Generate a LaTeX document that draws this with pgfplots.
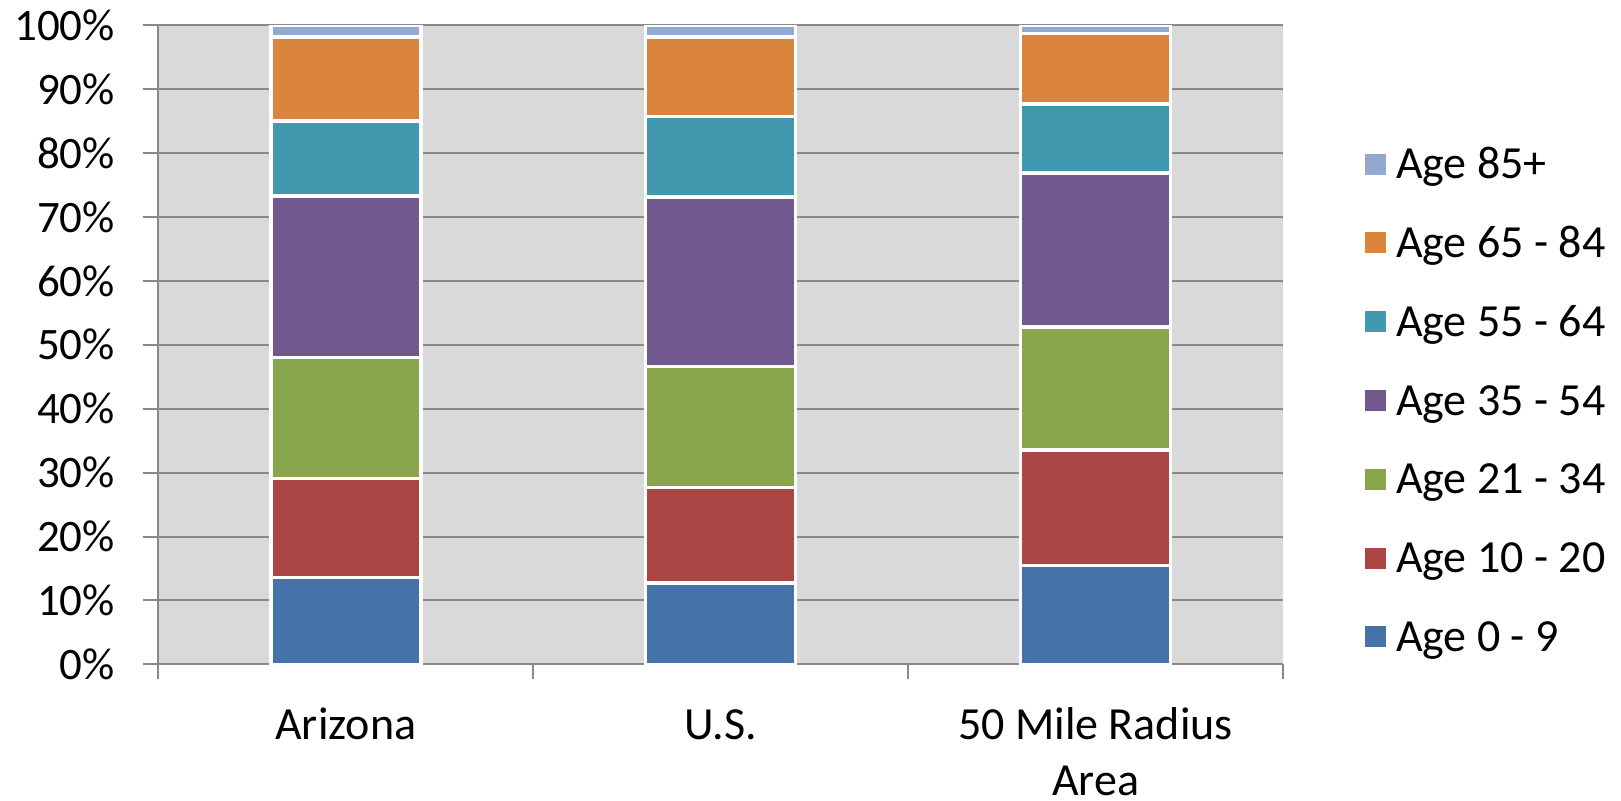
\documentclass[border=0pt]{standalone}
\usepackage{fontspec}
\setmainfont{Carlito}
\usepackage{pgfplots}
\pgfplotsset{compat=1.18}
\definecolor{cA}{HTML}{4572A7}
\definecolor{cB}{HTML}{AA4643}
\definecolor{cC}{HTML}{89A54E}
\definecolor{cD}{HTML}{71588F}
\definecolor{cE}{HTML}{4198AF}
\definecolor{cF}{HTML}{DB843D}
\definecolor{cG}{HTML}{93A9CF}
\definecolor{bggray}{HTML}{D9D9D9}
\definecolor{axgray}{HTML}{898989}
\begin{document}
\begin{tikzpicture}
\path[use as bounding box] (0,0) rectangle (810.5pt,400pt);
\begin{axis}[
  at={(79.15pt,67.85pt)}, anchor=south west,
  scale only axis, width=562.35pt, height=319.5pt,
  ybar stacked, bar width=75pt,
  xmin=-0.5, xmax=2.5, ymin=0, ymax=100,
  axis x line*=bottom, axis y line*=left,
  axis line style={draw=axgray, line width=1pt},
  axis background/.style={fill=bggray},
  xtick={0,1,2},
  xticklabels={\rule{0pt}{17pt}Arizona, \rule{0pt}{17pt}U.S., {\rule{0pt}{17pt}50 Mile Radius\\Area}},
  major x tick style={draw=none},
  minor xtick={-0.5,0.5,1.5,2.5},
  minor x tick style={draw=axgray, line width=1pt},
  minor tick length=7.5pt,
  ytick={0,10,...,100},
  major y tick style={draw=axgray, line width=1pt},
  major tick length=7.5pt,
  tick align=outside,
  ymajorgrids,
  major grid style={draw=axgray, line width=1pt},
  /pgf/number format/assume math mode=true,
  yticklabel={\pgfmathprintnumber{\tick}\%},
  yticklabel style={anchor=east, inner sep=0pt, xshift=-14pt, font=\fontsize{22.5}{27}\selectfont},
  xticklabel style={align=center, anchor=north, inner sep=0pt, yshift=-13.1pt, font=\fontsize{23}{28}\selectfont},
  reverse legend,
  legend style={at={(1.0729,0.4057)}, anchor=west, draw=none, fill=none,
    inner sep=0pt, outer sep=0pt, font=\fontsize{23}{28}\selectfont,
    row sep=19.4pt, column sep=5pt,
    nodes={inner sep=0pt, text height=15pt, text depth=5pt}},
  legend cell align=left,
  legend image code/.code={\path[#1, draw=none] (0pt,-3pt) rectangle (10.5pt,7.5pt);},
]
\addplot+[fill=cA, draw=white, line width=1.75pt] coordinates {(0,13.6) (1,12.7) (2,15.5)};
\addplot+[fill=cB, draw=white, line width=1.75pt] coordinates {(0,15.5) (1,15.0) (2,18.0)};
\addplot+[fill=cC, draw=white, line width=1.75pt] coordinates {(0,18.9) (1,18.9) (2,19.3)};
\addplot+[fill=cD, draw=white, line width=1.75pt] coordinates {(0,25.3) (1,26.5) (2,24.1)};
\addplot+[fill=cE, draw=white, line width=1.75pt] coordinates {(0,11.7) (1,12.6) (2,10.8)};
\addplot+[fill=cF, draw=white, line width=1.75pt] coordinates {(0,13.2) (1,12.5) (2,11.0)};
\addplot+[fill=cG, draw=white, line width=1.75pt] coordinates {(0,1.8) (1,1.8) (2,1.3)};
\legend{Age 0 - 9, Age 10 - 20, Age 21 - 34, Age 35 - 54, Age 55 - 64, Age 65 - 84, Age 85+}
\end{axis}
\end{tikzpicture}
\end{document}
